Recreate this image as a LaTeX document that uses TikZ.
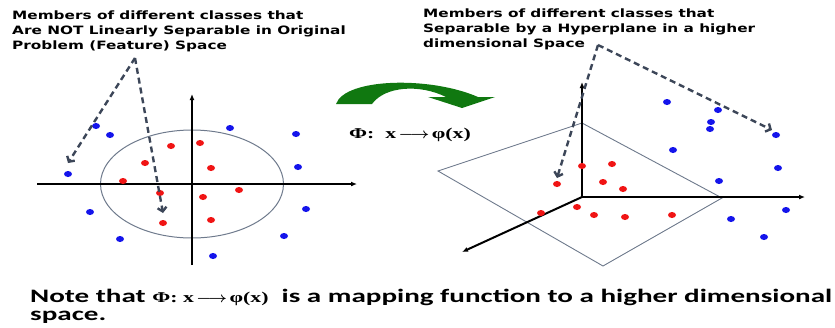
\documentclass[tikz,border=0pt]{standalone}
\usepackage{fontspec}
\usepackage{amsmath}
\usetikzlibrary{arrows.meta,shapes.geometric}
\newfontfamily\labfont[FakeStretch=1.33]{DejaVu Sans}
\newfontfamily\notefont[FakeStretch=1.53]{Carlito}
\newfontfamily\tnrfont[FakeStretch=1.45]{Liberation Serif}
\newcommand{\maparrow}{\scalebox{1.15}[1]{\boldmath$\longrightarrow$}}
\newcommand{\mapformula}{{\tnrfont\bfseries\fontsize{15pt}{17pt}\selectfont Φ:\ \ x\,\maparrow\,φ(x)}}
\newcommand{\mapinline}{{\tnrfont\bfseries\fontsize{15pt}{17pt}\selectfont Φ:\ x\,\maparrow\,φ(x)}}
\definecolor{dotred}{RGB}{240,20,20}
\definecolor{dotblue}{RGB}{20,20,235}
\definecolor{dashc}{RGB}{60,70,88}
\definecolor{ringc}{RGB}{110,122,140}
\definecolor{arrowgreen}{RGB}{16,120,16}
\begin{document}
\begin{tikzpicture}[x=1pt,y=-1pt,
  rdot/.style={ellipse,fill=dotred,inner sep=0pt,minimum width=8pt,minimum height=6pt},
  bdot/.style={ellipse,fill=dotblue,inner sep=0pt,minimum width=8pt,minimum height=6pt},
  axisline/.style={black,line width=1.6pt,-{Latex[length=6pt,width=5pt]}},
  dasharrow/.style={draw=dashc,line width=2.4pt,dash pattern=on 6pt off 4pt,-{Straight Barb[length=4pt,width=9pt]}},
  lab/.style={font={\labfont\bfseries\fontsize{11.5pt}{15pt}\selectfont},align=left,inner sep=0pt},
  note/.style={font={\notefont\bfseries\fontsize{19pt}{18pt}\selectfont},align=left,inner sep=0pt}]
\useasboundingbox (0,0) rectangle (835,327);

% ---------- left panel ----------
\node[lab,anchor=north west] (ltext) at (12,10.5) {Members of different classes that\\Are NOT Linearly Separable in Original\\Problem (Feature) Space};
\draw[ringc,line width=1pt] (192,184) ellipse [x radius=91.5pt,y radius=54pt];
\coordinate (lxl) at (37,184);
\coordinate (lxr) at (357,184);
\coordinate (lyb) at (192,265);
\coordinate (lyt) at (192,94);
\draw[axisline] (lxl) -- (lxr);
\draw[axisline] (lyb) -- (lyt);
\foreach \p [count=\i] in {(171,146),(200,143),(145,163),(211,168),(123,181),(160,193),(239,190),(203,197),(163,223),(211,220)}
  \node[rdot] (lr\i) at \p {};
\foreach \p [count=\i] in {(96,126),(110,135),(230,128),(296,134),(68,174),(298,167),(90,212),(306,209),(120,239),(284,236),(213,256)}
  \node[bdot] (lb\i) at \p {};
\coordinate (lapex) at (135,58);
\coordinate (lt1) at (68,163);
\coordinate (lt2) at (163,213);
\draw[dasharrow] (lapex) -- (lt1);
\draw[dasharrow] (lapex) -- (lt2);

% ---------- mapping arrow ----------
\fill[arrowgreen] (336,104) .. controls (345,78) and (430,76) .. (478,97) -- (495,97) -- (462,108) -- (428,97) -- (446,97) .. controls (420,84) and (385,86) .. (372,104) -- cycle;
\node[inner sep=0pt] (phi) at (410,135) {\mapformula};

% ---------- right panel ----------
\node[lab,anchor=north west] (rtext) at (423,8.5) {Members of different classes that\\Separable by a Hyperplane in a higher\\dimensional Space};
\coordinate (pl) at (438,171);
\coordinate (pt) at (582,123);
\coordinate (pr) at (722,198);
\coordinate (pb) at (603,266);
\draw[ringc,line width=0.9pt] (pl) -- (pt) -- (pr) -- (pb) -- cycle;
\coordinate (ro) at (582,197);
\coordinate (ryt) at (582,82);
\coordinate (rxr) at (805,197);
\coordinate (rzd) at (462,252);
\draw[axisline,line width=2pt] (ro) -- (ryt);
\draw[axisline,line width=2pt] (ro) -- (rxr);
\draw[axisline,line width=2pt] (ro) -- (rzd);
\foreach \p [count=\i] in {(582,166),(612,164),(603,182),(623,189),(557,184),(577,207),(541,213),(594,215),(625,217),(672,215)}
  \node[rdot] (rr\i) at \p {};
\foreach \p [count=\i] in {(667,102),(718,110),(711,122),(710,129),(776,135),(673,150),(778,168),(719,181),(786,210),(731,219),(764,237)}
  \node[bdot] (rb\i) at \p {};
\coordinate (rapex) at (598,45);
\coordinate (rt1) at (557,178);
\coordinate (rt2) at (772,130);
\draw[dasharrow] (rapex) -- (rt1);
\draw[dasharrow] (rapex) -- (rt2);

% ---------- note ----------
\node[note,anchor=north west] (nt) at (30,289) {Note that \mapinline\ \ is a mapping function to a higher dimensional\\space.};
\end{tikzpicture}
\end{document}
